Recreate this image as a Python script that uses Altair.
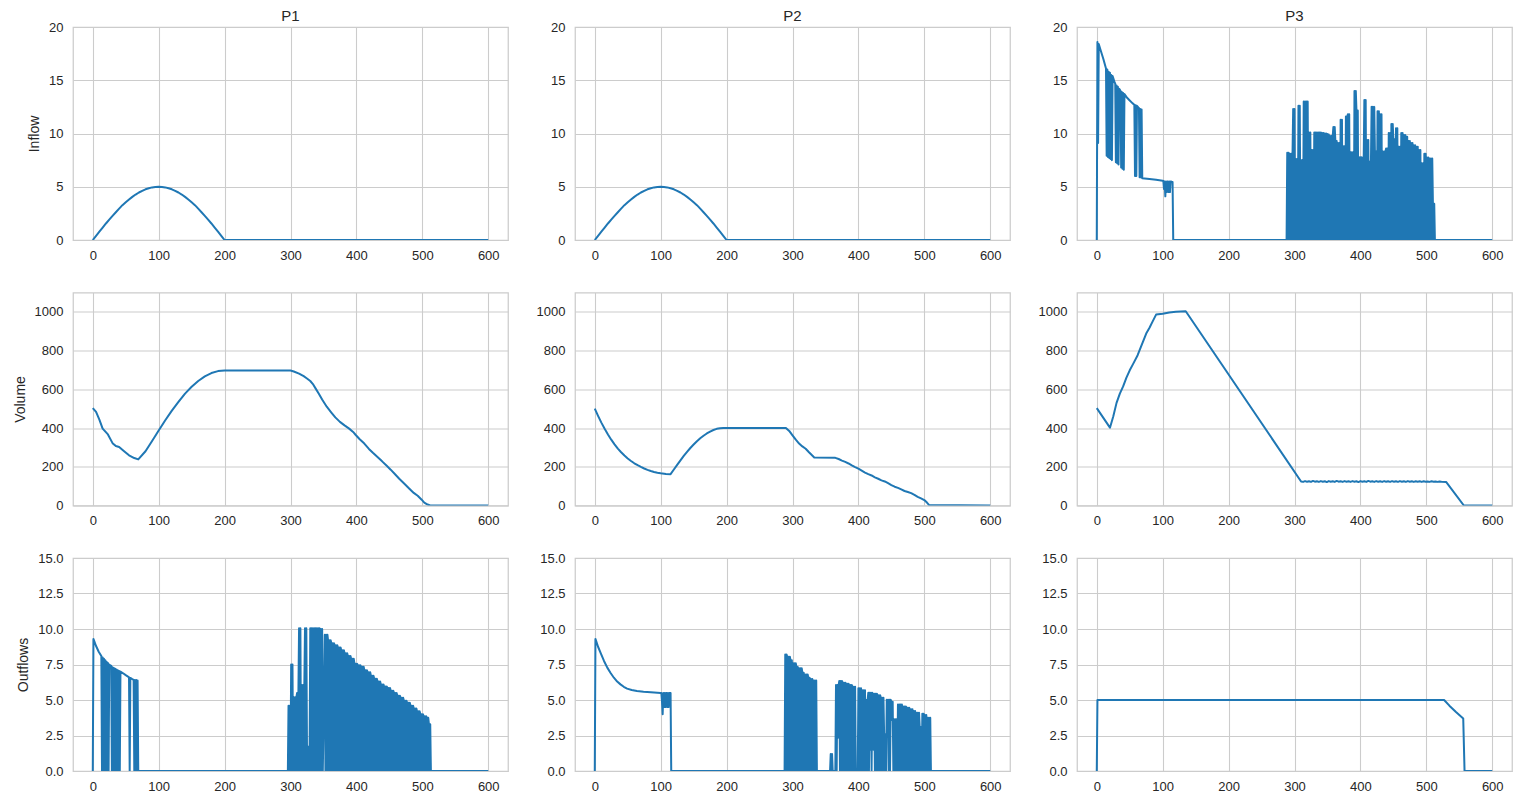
import altair as alt
import pandas as pd

# ---------------- tick labels ----------------
X_TICKS = [0, 100, 200, 300, 400, 500, 600]
INFLOW_TICKS = [0, 5, 10, 15, 20]
VOLUME_TICKS = [0, 200, 400, 600, 800, 1000]
OUTFLOW_TICKS = [0, 2.5, 5, 7.5, 10, 12.5, 15]
COLUMNS = ["P1", "P2", "P3"]
ROWS = ["Inflow", "Volume", "Outflows"]

# ---------------- Inflow (P1 and P2 share the same inflow) ----------------
INFLOW_T = [0, 5, 10, 15, 20, 25, 30, 35, 40, 45, 50, 55, 60, 65, 70, 75, 80, 85, 90, 95, 100,
            105, 110, 115, 120, 125, 130, 135, 140, 145, 150, 155, 160, 165, 170, 175, 180, 185,
            190, 195, 200, 600]
INFLOW_V = [0, 0.39, 0.78, 1.17, 1.55, 1.91, 2.27, 2.61, 2.94, 3.27, 3.54, 3.8, 4.05, 4.27, 4.46,
            4.62, 4.76, 4.86, 4.94, 4.98, 5.0, 4.98, 4.94, 4.86, 4.76, 4.62, 4.46, 4.27, 4.05, 3.8,
            3.54, 3.27, 2.94, 2.61, 2.27, 1.91, 1.55, 1.17, 0.78, 0.39, 0, 0]

# ---------------- P3 inflow ----------------
P3_IN_T = [0, 1, 2, 3, 6, 10, 25, 27, 35, 46, 50, 54, 63, 69, 80, 90, 100, 116, 288, 513, 600]
P3_IN_V = [0, 18.6, 9.1, 18.4, 17.8, 17.0, 15.2, 14.8, 14.1, 13.35, 13.1, 12.85, 12.45, 5.8,
           5.72, 5.65, 5.57, 0, 0, 0, 0]
P3_IN_RUNS = [
    (14, [16.1, 7.9, 16.0, 7.8, 15.8, 7.7, 15.7, 7.6, 15.5, 7.5, 15.4]),
    (28, [14.7, 7.3, 14.5, 7.2, 14.4, 7.1, 14.2]),
    (36, [14.0, 6.8, 13.9, 6.7, 13.8, 6.6, 13.7]),
    (57, [12.7, 6.0, 12.65, 6.0, 12.6]),
    (64, [12.4, 5.9, 12.3, 5.9, 12.25]),
    (101, [5.55, 4.8, 5.5, 4.1, 5.5, 4.5, 5.5, 5.5, 4.5, 5.5, 4.5, 5.5, 5.5, 5.45, 5.45]),
    (289, [8.2, 0, 8.2, 0, 8.1, 0, 8.1, 0, 8.0]),
    (298, [12.3, 0, 12.3, 0]),
    (302, [7.6, 0, 7.6, 0]),
    (306, [12.6, 0, 12.6, 0]),
    (310, [7.5, 0, 7.5, 0]),
    (314, [13.0, 0, 13.0, 0, 13.0, 0, 13.0, 0]),
    (322, [10.1, 0, 10.1, 0]),
    (326, [8.45, 0, 8.45, 0]),
    (330, [10.1, 0, 10.1, 0, 10.1, 0, 10.1, 0, 10.1, 0, 10.1, 0, 10.05, 0, 10.05, 0, 10.0, 0,
           10.0, 0, 9.95, 0, 9.9, 0]),
    (354, [9.76, 0, 9.76, 0, 9.76]),
    (359, [10.6, 0, 10.6]),
    (362, [9.3, 0, 9.3, 0]),
    (366, [9.1, 0, 9.1, 0]),
    (370, [11.3, 0, 11.3, 0]),
    (374, [8.8, 0, 8.8, 0]),
    (378, [11.6, 0, 11.6]),
    (381, [11.8, 0, 11.8, 0]),
    (385, [8.25, 0, 8.25, 0, 8.25, 0]),
    (391, [14.0, 0, 14.0]),
    (394, [12.15, 0, 12.15, 0]),
    (398, [7.76, 0, 7.76, 0, 7.76]),
    (403, [7.6, 0, 7.6]),
    (406, [13.15, 0, 13.15, 0]),
    (410, [9.4, 0, 9.4, 0]),
    (414, [7.35, 0, 7.35]),
    (417, [12.5, 0, 12.5, 0, 12.5]),
    (422, [8.3, 0, 8.3, 0]),
    (426, [12.1, 0, 12.1, 0]),
    (430, [11.8, 0, 11.8, 0]),
    (434, [8.3, 0, 8.3, 0, 8.3]),
    (439, [8.6, 0, 8.6, 0]),
    (443, [10.05, 0, 10.05, 0]),
    (447, [10.9, 0, 10.9]),
    (450, [9.45, 0, 9.45, 0]),
    (454, [10.5, 0, 10.5, 0]),
    (458, [8.75, 0, 8.75, 0]),
    (462, [10.05, 0, 10.05, 0]),
    (466, [9.85, 0, 9.85]),
    (469, [9.7, 0, 9.7, 0]),
    (473, [9.3, 0, 9.3, 0]),
    (477, [9.1, 0, 9.1, 0]),
    (481, [8.9, 0, 8.9, 0]),
    (485, [8.75, 0, 8.75, 0]),
    (489, [8.45, 0, 8.45, 0]),
    (493, [7.2, 0, 7.2, 0]),
    (497, [8.1, 0, 8.1, 0]),
    (501, [7.75, 0, 7.75, 0]),
    (505, [7.65, 0, 7.65, 0, 7.65]),
    (510, [3.4, 0, 3.4]),
]

# ---------------- Volumes ----------------
P1_VOL_T = [0, 5, 10, 15, 23, 30, 35, 40, 48, 55, 63, 69, 80, 90, 100, 110, 120, 130, 140, 150,
            160, 170, 180, 190, 200, 300, 305, 313, 320, 325, 330, 334, 338, 343, 348, 355, 362,
            368, 375, 382, 389, 395, 399, 405, 412, 419, 425, 432, 439, 446, 452, 459, 465, 472,
            480, 487, 493, 499, 503, 508, 512, 600]
P1_VOL_V = [503, 483, 443, 397, 367, 322, 307, 302, 279, 259, 245, 238, 280, 333, 387, 440, 490,
            535, 578, 613, 643, 667, 684, 694, 697, 697, 692, 681, 668, 656, 643, 627, 605, 577,
            547, 510, 480, 455, 432, 414, 397, 380, 364, 342, 320, 292, 272, 250, 228, 205, 185,
            160, 138, 115, 88, 65, 50, 30, 15, 5, 0, 0]

P2_VOL_T = [0, 5, 10, 15, 20, 25, 30, 35, 40, 45, 50, 55, 60, 65, 70, 75, 80, 85, 90, 95, 100,
            108, 115, 120, 125, 130, 135, 140, 145, 150, 155, 160, 165, 170, 175, 180, 185, 190,
            195, 290, 295, 300, 305, 310, 315, 320, 325, 330, 333, 365, 370, 375, 380, 385, 390,
            395, 400, 405, 410, 415, 420, 425, 430, 435, 440, 445, 450, 455, 460, 465, 470, 475,
            480, 485, 490, 495, 500, 504, 507, 600]
P2_VOL_V = [500, 463, 428, 396, 367, 340, 316, 294, 275, 258, 243, 230, 218, 208, 199, 191, 184,
            178, 173, 169, 166, 163, 162, 186, 210, 233, 256, 277, 297, 315, 332, 347, 360, 372,
            382, 390, 396, 399, 400, 400, 385, 362, 340, 320, 305, 293, 275, 258, 248, 246, 240,
            232, 225, 217, 207, 198, 190, 180, 170, 162, 155, 145, 138, 130, 124, 115, 105, 97,
            91, 83, 75, 70, 64, 55, 45, 37, 28, 15, 3, 0]

P3_VOL_T = [0, 20, 25, 30, 35, 40, 45, 50, 55, 62, 70, 75, 80, 85, 90, 100, 110, 120, 135, 310,
            313, 316, 319, 322, 325, 328, 331, 334, 337, 340, 343, 346, 349, 352, 355, 358, 361,
            364, 367, 370, 373, 376, 379, 382, 385, 388, 391, 394, 397, 400, 403, 406, 409, 412,
            415, 418, 421, 424, 427, 430, 433, 436, 439, 442, 445, 448, 451, 454, 457, 460, 463,
            466, 469, 472, 475, 478, 481, 484, 487, 490, 493, 496, 499, 502, 505, 508, 511, 514,
            517, 520, 523, 530, 557, 600]
P3_VOL_V = [503, 402, 460, 530, 578, 615, 660, 698, 730, 776, 845, 888, 918, 952, 986, 990, 997,
            1001, 1003, 124,
            122, 126, 123, 125, 122, 127, 123, 125, 122, 126, 123, 125, 121, 126, 123, 125, 122,
            127, 123, 125, 122, 126, 123, 125, 122, 126, 123, 125, 121, 126, 123, 125, 122, 127,
            123, 125, 122, 126, 123, 125, 122, 126, 123, 125, 122, 126, 123, 125, 122, 126, 123,
            125, 122, 126, 123, 125, 122, 125, 123, 125, 122, 125, 123, 124, 122, 125, 123, 124,
            122, 124, 123, 122, 0, 0]

# ---------------- Outflows ----------------
P1_OUT_T = [0, 1, 5, 9, 26, 46, 50, 54, 60, 69, 296, 513, 600]
P1_OUT_V = [0, 9.3, 8.8, 8.4, 7.46, 6.88, 6.75, 6.63, 6.47, 0, 0, 0, 0]
P1_OUT_RUNS = [
    (13, [8.1, 0, 8.0, 0, 7.9, 0, 7.8, 0, 7.7, 0, 7.6, 0, 7.5]),
    (28, [7.4, 0, 7.3, 0, 7.25, 0, 7.2, 0, 7.15, 0, 7.1, 0, 7.05, 0, 7.0]),
    (55, [6.6, 0, 6.55]),
    (62, [6.42, 0, 6.4, 0, 6.4, 0, 6.38]),
    (297, [4.6, 0, 4.6, 0]),
    (301, [7.5, 0, 7.5, 0]),
    (305, [5.2, 0, 5.2, 0, 5.2]),
    (310, [5.5, 0, 5.5]),
    (313, [10.05, 0, 10.05, 0]),
    (317, [6.06, 0, 6.06, 0, 6.06]),
    (322, [10.05, 0, 10.05]),
    (325, [1.7, 0, 1.7, 0, 1.7]),
    (330, [10.05, 0, 10.05, 0, 10.05, 0, 10.05, 0, 10.05, 0, 10.05, 0, 10.05, 0, 10.05, 0,
           10.0, 0, 10.0, 0]),
    (352, [9.6, 0, 9.6, 0, 9.6]),
    (357, [9.2, 0, 9.2, 0, 9.2]),
    (362, [9.0, 0, 9.0, 0, 9.0]),
    (367, [8.85, 0, 8.85, 0, 8.85]),
    (372, [8.7, 0, 8.7, 0, 8.7]),
    (377, [8.5, 0, 8.5, 0, 8.5]),
    (382, [8.3, 0, 8.3, 0, 8.3]),
    (387, [8.1, 0, 8.1, 0, 8.1]),
    (392, [7.9, 0, 7.9, 0, 7.9]),
    (397, [7.55, 0, 7.55, 0, 7.55]),
    (402, [7.45, 0, 7.45, 0, 7.45]),
    (407, [7.35, 0, 7.35, 0, 7.35]),
    (412, [7.1, 0, 7.1, 0, 7.1]),
    (417, [6.95, 0, 6.95, 0, 6.95]),
    (422, [6.7, 0, 6.7, 0, 6.7]),
    (427, [6.5, 0, 6.5, 0, 6.5]),
    (432, [6.3, 0, 6.3, 0, 6.3]),
    (437, [6.1, 0, 6.1, 0, 6.1]),
    (442, [5.95, 0, 5.95, 0, 5.95]),
    (447, [5.85, 0, 5.85, 0, 5.85]),
    (452, [5.65, 0, 5.65, 0, 5.65]),
    (457, [5.5, 0, 5.5, 0, 5.5]),
    (462, [5.3, 0, 5.3, 0, 5.3]),
    (467, [5.15, 0, 5.15, 0, 5.15]),
    (472, [4.95, 0, 4.95, 0, 4.95]),
    (477, [4.8, 0, 4.8, 0, 4.8]),
    (482, [4.6, 0, 4.6, 0, 4.6]),
    (487, [4.4, 0, 4.4, 0, 4.4]),
    (492, [4.2, 0, 4.2, 0, 4.2]),
    (497, [4.0, 0, 4.0, 0, 4.0]),
    (502, [3.85, 0, 3.85, 0, 3.85]),
    (507, [3.75, 0, 3.75]),
    (510, [3.3, 0, 3.3]),
]

P2_OUT_T = [0, 1, 5, 9, 14, 19, 24, 29, 34, 39, 44, 49, 56, 64, 74, 85, 100, 116, 288, 337, 357,
            361, 365, 510, 600]
P2_OUT_V = [0, 9.3, 8.75, 8.3, 7.75, 7.28, 6.9, 6.57, 6.3, 6.1, 5.93, 5.8, 5.7, 5.63, 5.58, 5.54,
            5.5, 0, 0, 0, 0, 0, 0, 0, 0]
P2_OUT_RUNS = [
    (101, [5.5, 4.9, 4.0, 5.5, 4.5, 5.5, 4.5, 5.5, 5.5, 4.5, 5.5, 4.5, 5.5, 5.5, 5.5]),
    (289, [8.2, 0, 8.2]),
    (292, [8.05, 0, 8.05, 0, 8.05]),
    (297, [7.8, 0, 7.8, 0]),
    (301, [7.58, 0, 7.58, 0, 7.58]),
    (306, [7.33, 0, 7.33, 0]),
    (310, [7.23, 0, 7.23, 0, 7.23]),
    (315, [6.92, 0, 6.92, 0]),
    (319, [6.8, 0, 6.8, 0, 6.8]),
    (324, [6.57, 0, 6.57, 0]),
    (328, [6.48, 0, 6.48, 0]),
    (332, [6.38, 0, 6.38, 0, 6.38]),
    (358, [1.2, 0, 1.2]),
    (366, [6.05, 0, 6.05, 2.35, 6.05]),
    (371, [6.34, 0, 6.34, 0, 6.34]),
    (376, [6.22, 0, 6.22, 0, 6.22]),
    (381, [6.15, 0, 6.15, 0, 6.15]),
    (386, [6.05, 0, 6.05, 0, 6.05]),
    (391, [5.93, 0, 5.93, 0, 5.93]),
    (396, [0, 0, 0, 0]),
    (400, [5.82, 0, 5.82, 0, 5.82, 0]),
    (406, [5.68, 0, 5.68, 0, 5.68, 0]),
    (412, [5.0, 0, 5.0]),
    (415, [5.51, 0, 5.51, 1.5, 5.51, 0, 5.51]),
    (422, [5.44, 1.5, 5.44, 0, 5.44, 0, 5.44]),
    (429, [5.33, 0, 5.33, 0, 5.33]),
    (434, [5.16, 0, 5.16, 0, 5.16]),
    (439, [2.58, 0, 2.58, 0]),
    (443, [5.02, 4.0, 5.02, 0, 5.02, 0, 5.02]),
    (450, [4.88, 3.6, 4.88, 0]),
    (454, [3.65, 0, 3.65, 0, 3.65, 0]),
    (460, [4.69, 0, 4.69, 0, 4.69, 0, 4.69, 0]),
    (468, [4.55, 0, 4.55, 0, 4.55]),
    (473, [4.46, 0, 4.46, 0, 4.46]),
    (478, [4.34, 0, 4.34, 0, 4.34, 0]),
    (484, [4.22, 0, 4.22, 0]),
    (488, [4.1, 0, 4.1, 0, 4.1]),
    (493, [3.1, 0, 3.1, 0]),
    (497, [4.04, 0, 4.04, 0]),
    (501, [3.94, 0, 3.94, 0]),
    (505, [3.75, 0, 3.75, 0, 3.75]),
]

P3_OUT_T = [0, 1, 527, 535, 545, 556, 558, 600]
P3_OUT_V = [0, 5, 5, 4.6, 4.15, 3.7, 0, 0]


def build(ts, vs, runs=()):
    pts = list(zip(ts, vs))
    for t0, vals in runs:
        for k, v in enumerate(vals):
            pts.append((t0 + k, v))
    pts.sort(key=lambda p: p[0])
    df = pd.DataFrame(pts, columns=["t", "v"])
    df["i"] = range(len(df))
    return df


DATA = [
    [build(INFLOW_T, INFLOW_V), build(INFLOW_T, INFLOW_V), build(P3_IN_T, P3_IN_V, P3_IN_RUNS)],
    [build(P1_VOL_T, P1_VOL_V), build(P2_VOL_T, P2_VOL_V), build(P3_VOL_T, P3_VOL_V)],
    [build(P1_OUT_T, P1_OUT_V, P1_OUT_RUNS), build(P2_OUT_T, P2_OUT_V, P2_OUT_RUNS),
     build(P3_OUT_T, P3_OUT_V)],
]
Y_SPECS = [
    ([0, 20], INFLOW_TICKS, "d"),
    ([0, 1100], VOLUME_TICKS, "d"),
    ([0, 15], OUTFLOW_TICKS, ".1f"),
]

FONT = "Liberation Sans"
TXT = "#262626"
W, H = 435, 213

cells = []
for r in range(3):
    dom, ticks, fmt = Y_SPECS[r]
    for c in range(3):
        df = DATA[r][c]
        if c == 0:
            y = alt.Y("v:Q", title=ROWS[r],
                      scale=alt.Scale(domain=dom, nice=False, zero=False),
                      axis=alt.Axis(values=ticks, format=fmt))
        else:
            y = alt.Y("v:Q", title=None,
                      scale=alt.Scale(domain=dom, nice=False, zero=False),
                      axis=alt.Axis(values=ticks, format=fmt))
        x = alt.X("t:Q", title=None,
                  scale=alt.Scale(domain=[-30, 630], nice=False, zero=False),
                  axis=alt.Axis(values=X_TICKS, format="d"))
        ch = alt.Chart(df).mark_line(color="#1f77b4", strokeWidth=2.0, clip=True,
                                     strokeJoin="round").encode(
            x=x, y=y, order=alt.Order("i:Q"))
        if r == 0:
            ch = ch.properties(width=W, height=H,
                               title=alt.TitleParams(COLUMNS[c], fontSize=15, font=FONT,
                                                     color=TXT, fontWeight="normal", offset=-3))
        else:
            ch = ch.properties(width=W, height=H)
        cells.append(ch)

chart = alt.concat(*cells, columns=3, spacing={"row": 52.5, "column": 67}).properties(
    bounds="flush",
    padding={"left": 4, "top": 0, "right": 5, "bottom": 5},
).configure_view(
    stroke="#cccccc", strokeWidth=1.25
).configure_axis(
    grid=True, gridColor="#cccccc", gridWidth=1.1, domain=False, ticks=False, tickSize=0,
    labelFont=FONT, labelFontSize=13, labelColor=TXT,
    titleFont=FONT, titleFontSize=14, titleFontWeight="normal", titleColor=TXT
).configure_axisX(
    labelPadding=9
).configure_axisY(
    labelPadding=10, titlePadding=7
)

chart.save("out.html", embed_options={"renderer": "svg", "actions": False})
